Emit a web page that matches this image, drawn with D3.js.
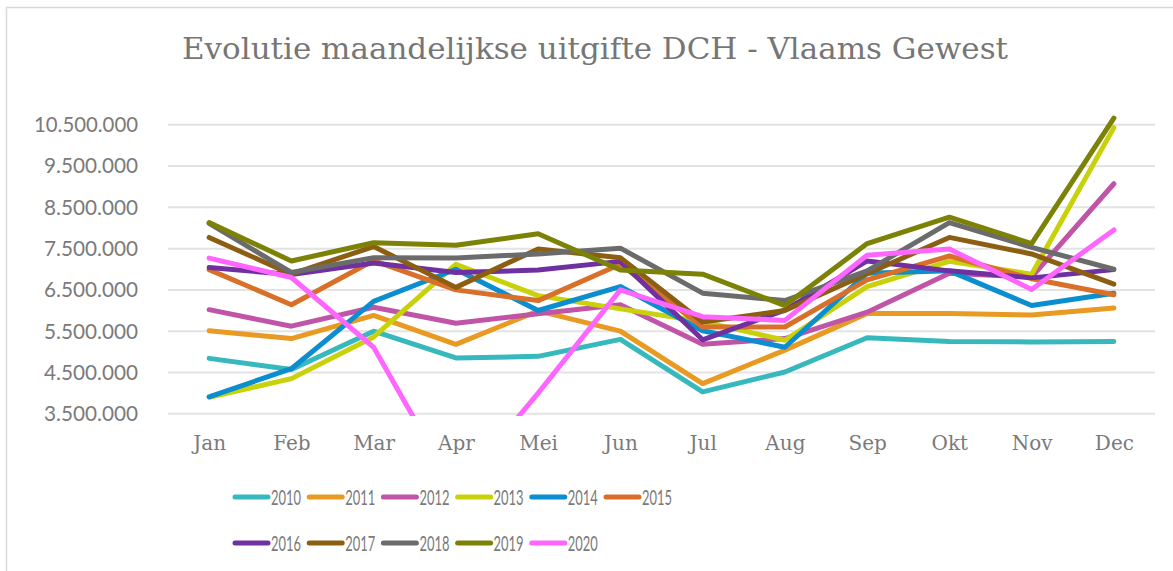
<!DOCTYPE html>
<html lang="nl">
<head>
<meta charset="UTF-8">
<title>Evolutie maandelijkse uitgifte DCH</title>
<script src="https://d3js.org/d3.v7.min.js"></script>
<style>
    body{ margin:0; background:#fff; }
    svg text{ fill:#7a7a7a; }
</style>
</head>
<body>
<div id="chart"></div>
<script>
// months on the x axis
var months = ["Jan","Feb","Mar","Apr","Mei","Jun","Jul","Aug","Sep","Okt","Nov","Dec"];
var years = ["2010","2011","2012","2013","2014","2015","2016","2017","2018","2019","2020"];
var colors = ["#36b8bc","#e89a22","#c055a8","#c8d10a","#0a8ed0","#d8702a","#7030a0","#8b5e12","#6b6b6b","#7b8205","#ff66ff"];
var yTicks = [3500000,4500000,5500000,6500000,7500000,8500000,9500000,10500000];

// monthly values per year
var v2010 = [4830000,4560000,5490000,4840000,4880000,5290000,4020000,4500000,5330000,5240000,5230000,5240000];
var v2011 = [5500000,5310000,5870000,5170000,5980000,5490000,4220000,5030000,5920000,5920000,5880000,6050000];
var v2012 = [6010000,5610000,6070000,5680000,5910000,6130000,5170000,5310000,5950000,6890000,6800000,9060000];
var v2013 = [3890000,4340000,5350000,7110000,6350000,6030000,5720000,5270000,6570000,7180000,6870000,10420000];
var v2014 = [3900000,4580000,6210000,6990000,5990000,6570000,5500000,5100000,6890000,6950000,6110000,6410000];
var v2015 = [6980000,6130000,7200000,6490000,6230000,7110000,5590000,5590000,6730000,7310000,6760000,6370000];
var v2016 = [7030000,6860000,7140000,6910000,6970000,7180000,5280000,6000000,7190000,6950000,6780000,6980000];
var v2017 = [7760000,6870000,7540000,6550000,7480000,7270000,5710000,5990000,6880000,7760000,7360000,6630000];
var v2018 = [8100000,6910000,7270000,7260000,7360000,7500000,6410000,6230000,6950000,8120000,7520000,6990000];
var v2019 = [8120000,7190000,7630000,7570000,7850000,6970000,6870000,6110000,7610000,8250000,7610000,10650000];
var v2020 = [7260000,6790000,5100000,1600000,3990000,6490000,5840000,5750000,7330000,7480000,6500000,7940000];

var values = [v2010,v2011,v2012,v2013,v2014,v2015,v2016,v2017,v2018,v2019,v2020];

var width = 1173, height = 571;

var svg = d3.select("#chart")
    .append("svg")
    .attr("width", width)
    .attr("height", height);

// light frame of the chart box
svg.append("path")
    .attr("d", "M6.5,571 L6.5,7.5 L1173,7.5")
    .attr("fill", "none")
    .attr("stroke", "#d9d9d9")
    .attr("stroke-width", 1.5);

// title
svg.append("text")
    .attr("x", 595)
    .attr("y", 59)
    .attr("text-anchor", "middle")
    .attr("textLength", 826)
    .attr("lengthAdjust", "spacingAndGlyphs")
    .style("font-family", "'DejaVu Serif', serif")
    .style("font-size", "29px")
    .style("fill", "#767676")
    .text("Evolutie maandelijkse uitgifte DCH - Vlaams Gewest");

// scales
var xScale = d3.scalePoint()
    .domain(months)
    .range([168, 1155])
    .padding(0.5);

var yScale = d3.scaleLinear()
    .domain([3500000, 10500000])
    .range([413.3, 124.3]);

var fmt = function(d){ return d3.format(",")(d).replace(/,/g, "."); };

// gridlines + y labels
var yAxis = svg.append("g")
    .attr("transform", "translate(168,0)")
    .call(d3.axisLeft(yScale).tickValues(yTicks).tickSize(-987).tickFormat(fmt).tickPadding(30));
yAxis.select(".domain").remove();
yAxis.selectAll("line").attr("stroke", "#e3e3e3").attr("stroke-width", 2);
yAxis.selectAll("text")
    .attr("textLength", function(d){ return d >= 10000000 ? 104 : 94; })
    .attr("lengthAdjust", "spacingAndGlyphs")
    .style("font-family", "Lato, sans-serif")
    .style("font-size", "21px")
    .style("fill", "#7a7a7a")
    .attr("dy", "0.35em");

// x labels
var xAxis = svg.append("g")
    .attr("transform", "translate(0,414)")
    .call(d3.axisBottom(xScale).tickSize(0).tickPadding(22));
xAxis.select(".domain").remove();
xAxis.selectAll("text")
    .style("font-family", "'DejaVu Serif', serif")
    .style("font-size", "20px")
    .style("fill", "#7a7a7a");

// clip lines below the axis minimum
svg.append("clipPath")
    .attr("id", "plotclip")
    .append("rect")
    .attr("x", 150).attr("y", 0)
    .attr("width", 1023).attr("height", 416);

var line = d3.line()
    .x(function(d, i){ return xScale(months[i]); })
    .y(function(d){ return yScale(d); });

svg.append("g")
    .attr("clip-path", "url(#plotclip)")
    .selectAll("path")
    .data(values)
    .join("path")
        .attr("d", line)
        .attr("fill", "none")
        .attr("stroke", function(d, i){ return colors[i]; })
        .attr("stroke-width", 5)
        .attr("stroke-linejoin", "round")
        .attr("stroke-linecap", "round");

// legend: two rows, six per row
var legend = svg.append("g")
    .selectAll("g")
    .data(years)
    .join("g")
    .attr("transform", function(d, i){
        var col = i % 6, row = Math.floor(i / 6);
        return "translate(" + (235 + col * 74.2) + "," + (497 + row * 46) + ")";
    });

legend.append("line")
    .attr("x1", 0).attr("x2", 33)
    .attr("y1", 0).attr("y2", 0)
    .attr("stroke", function(d, i){ return colors[i]; })
    .attr("stroke-width", 5)
    .attr("stroke-linecap", "round");

legend.append("text")
    .attr("x", 36)
    .attr("y", 8)
    .attr("textLength", 30)
    .attr("lengthAdjust", "spacingAndGlyphs")
    .style("font-family", "Lato, sans-serif")
    .style("font-size", "22px")
    .style("fill", "#7a7a7a")
    .text(function(d){ return d; });
</script>
</body>
</html>
